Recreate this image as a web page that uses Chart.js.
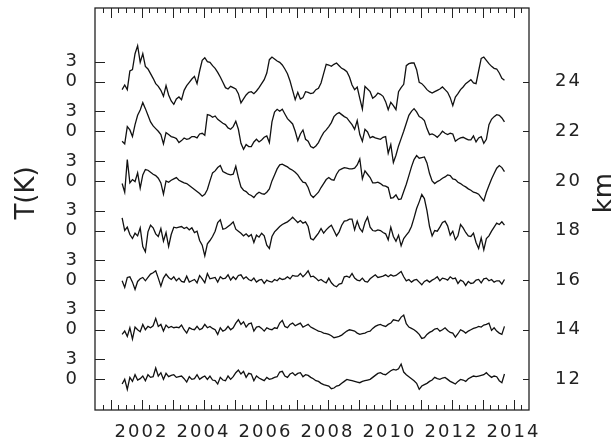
<!DOCTYPE html>
<html>
<head>
<meta charset="utf-8">
<script src="https://cdn.jsdelivr.net/npm/chart.js@4.4.0/dist/chart.umd.min.js"></script>
<style>
  html, body { margin: 0; padding: 0; background: #fff; }
  #wrap { width: 611px; height: 441px; }
</style>
</head>
<body>
<div id="wrap"><canvas id="profileChart" width="611" height="441"></canvas></div>
<script>
// one value per month, first sample mid-May 2001
const startYear = 2001.375;
const step = 1 / 12;

const heightsKm = [12, 14, 16, 18, 20, 22, 24];
const offsetK = 7.45; // spacing between the stacked curves (K)
const yearLabels = [2002, 2004, 2006, 2008, 2010, 2012, 2014];

// temperature anomalies (K) at each height
const t12 = [
  -0.7, 0.0, -1.5, 0.3, -0.3, 0.7, -0.1, 0.1, 0.5, -0.2, 0.7, 0.3,
  0.4, 1.7, 0.5, 1.0, 0.0, 0.9, 0.4, 0.6, 0.7, 0.3, 0.4, 0.5,
  0.1, -0.4, 0.4, 0.0, 0.1, 0.7, 0.0, 0.3, 0.5, 0.0, 0.5, -0.1,
  -0.2, -0.7, 0.3, -0.1, -0.2, 0.5, 0.0, 0.4, 1.0, 1.4, 0.8, 1.2,
  0.3, 0.9, 0.8, -0.2, 0.5, 0.2, 0.0, -0.2, 0.3, 0.0, 0.1, 0.3,
  0.4, 1.1, 1.2, 0.5, 0.3, 0.8, 1.0, 0.6, 0.9, 1.0, 0.4, 0.7,
  0.6, 0.3, 0.1, -0.2, -0.3, -0.6, -0.8, -0.9, -1.0, -1.4, -1.3, -1.0,
  -0.9, -0.6, -0.3, 0.0, -0.1, -0.2, -0.3, -0.4, -0.5, -0.3, -0.2, -0.1,
  0.0, 0.3, 0.6, 0.9, 1.0, 0.8, 0.7, 1.0, 1.3, 1.5, 1.4, 1.6,
  2.3, 1.1, 0.7, 0.4, 0.1, -0.2, -0.6, -1.5, -1.0, -0.8, -0.6, -0.3,
  -0.1, 0.3, 0.1, 0.0, 0.2, 0.3, 0.0, -0.3, -0.5, -0.7, -0.3, 0.0,
  -0.1, -0.3, 0.1, 0.3, 0.5, 0.4, 0.5, 0.6, 0.7, 1.0, 0.6, 0.3,
  0.5, 0.4, -0.2, -0.5, 0.8
];
const t14 = [
  -0.7, -0.2, -1.0, 0.3, -1.4, 0.4, 0.0, -0.3, 0.8, 0.0, 0.5, 0.3,
  0.6, 1.7, 0.5, 0.8, -0.2, 0.7, 0.3, 0.5, 0.3, 0.4, 0.3, 0.7,
  0.0, -0.5, 0.3, 0.1, 0.0, 0.5, 0.0, 0.2, 0.8, 0.3, 0.5, 0.2,
  0.0, -0.7, 0.3, -0.2, 0.0, 0.5, 0.0, 0.3, 1.0, 1.5, 0.8, 1.2,
  0.4, 0.9, 1.0, -0.2, 0.4, 0.5, 0.2, -0.2, 0.3, 0.1, 0.0, 0.3,
  0.2, 1.0, 1.4, 0.5, 0.3, 0.8, 1.0, 0.6, 0.8, 1.0, 0.4, 0.6,
  0.8, 0.4, 0.2, 0.0, -0.2, -0.3, -0.5, -0.6, -0.7, -0.9, -1.2, -1.1,
  -1.0, -0.8, -0.5, -0.2, 0.0, -0.1, -0.2, -0.5, -0.7, -0.6, -0.5, -0.3,
  -0.2, 0.2, 0.5, 0.7, 0.8, 0.6, 0.5, 0.8, 1.0, 1.5, 1.4, 1.3,
  1.9, 2.2, 0.9, 0.4, 0.2, 0.0, -0.3, -0.7, -1.3, -1.2, -0.7, -0.4,
  -0.2, 0.1, 0.2, -0.2, 0.0, 0.3, -0.1, -0.4, -0.5, -1.1, -0.6, 0.0,
  -0.2, -0.5, -0.2, 0.0, 0.2, 0.3, 0.5, 0.4, 0.7, 0.8, 1.0, -0.1,
  0.3, -0.2, -0.5, -0.7, 0.5
];
const t16 = [
  -0.1, -1.1, 0.4, 0.5, -0.3, -1.4, -0.2, 0.2, 0.4, -0.1, 0.4, 0.9,
  1.1, 1.4, 0.3, -0.9, 0.3, 0.9, 0.4, 0.1, 0.5, -0.1, 0.3, -0.2,
  -0.3, 0.6, -0.3, -0.1, 0.1, -0.4, 0.7, 0.2, -0.4, 1.0, 0.2, 0.3,
  0.4, -0.3, 0.5, 0.2, 0.3, 0.8, 0.0, 0.5, 0.1, 0.7, 0.8, 0.2,
  0.5, 0.1, -0.1, 0.3, -0.3, 0.0, 0.1, -0.5, 0.0, -0.2, -0.3, 0.1,
  -0.1, 0.3, 0.1, 0.2, 0.5, 0.2, 0.7, 0.6, 0.6, 1.0, 0.5, 0.9,
  1.4, 0.5, 0.6, 0.3, -0.1, 0.1, -0.2, -0.4, 0.3, -0.4, -0.8, -1.0,
  -0.6, -0.5, 0.5, 0.6, 0.4, 1.0, 0.3, 0.0, -0.1, 0.3, -0.2, -0.3,
  0.2, 0.5, 0.8, 0.4, 0.5, 0.6, 0.8, 0.5, 0.8, 0.6, 0.7, 1.0,
  1.3, 0.5, -0.1, 0.1, -0.3, 0.0, 0.1, -0.3, -0.7, -0.2, 0.0, -0.3,
  0.0, 0.2, 0.5, -0.1, 0.3, 0.2, 0.0, 0.5, 0.2, 0.3, -0.5, 0.0,
  -0.2, -0.8, -0.2, -0.5, -0.4, 0.0, 0.1, -0.4, 0.2, 0.3, -0.1, 0.1,
  -0.3, -0.1, -0.1, -0.6, 0.1
];
const t18 = [
  1.9, 0.0, 0.5, -0.6, -1.2, -0.4, -0.8, 0.4, -2.4, -3.2, -0.2, 0.8,
  0.4, -0.5, -0.9, 0.3, -1.6, -0.3, -2.4, -0.6, 0.5, 0.4, 0.5, 0.6,
  0.3, 0.5, 0.1, 0.4, -0.3, -0.1, -1.5, -2.2, -3.8, -2.0, -1.5, -0.9,
  -0.1, 1.2, 1.6, 0.2, 0.3, 0.6, 0.9, 1.3, 0.2, -0.1, -0.4, -0.8,
  -0.5, -0.9, -0.6, -1.8, -0.7, -1.0, -0.4, -0.8, -2.2, -2.7, -0.9, -0.2,
  0.2, 0.6, 0.9, 1.1, 1.3, 1.6, 2.0, 1.6, 1.2, 1.5, 1.1, 1.3,
  0.6, -1.2, -1.4, -0.9, -0.4, 0.3, -0.4, 0.1, 0.5, 0.8, 0.0, -0.8,
  -0.2, 0.8, 1.4, 1.5, 1.7, 1.7, 0.1, 1.4, 0.3, -0.2, 1.2, 2.0,
  0.5, 0.0, -0.1, 0.1, 0.0, -0.3, -0.5, -1.4, 0.5, -0.9, -1.6, -0.7,
  -2.3, -1.2, -0.7, -0.2, 0.6, 1.9, 3.3, 4.3, 5.4, 4.8, 3.0, 0.6,
  -0.8, 0.0, -0.1, 0.5, 1.2, 1.4, 0.7, -0.7, -0.1, -1.4, -0.8, 0.9,
  0.4, -0.3, -0.8, -0.9, -0.4, -1.8, -2.7, -1.1, -2.9, -1.2, -0.8, -0.1,
  0.5, 1.1, 0.9, 1.3, 0.8
];
const t20 = [
  -0.4, -1.7, 3.2, -0.3, 0.2, -0.1, 1.2, -1.1, 0.9, 1.7, 1.6, 1.3,
  1.0, 0.8, 0.4, -0.3, -2.0, 0.0, -0.2, 0.1, 0.3, 0.5, 0.1, -0.1,
  -0.3, -0.4, -0.7, -1.0, -1.3, -1.6, -1.9, -2.3, -2.0, -1.3, 0.0, 1.2,
  1.5, 2.0, 2.3, 1.4, 1.2, 1.0, 0.9, 1.0, 2.2, 0.5, -0.9, -1.4,
  -1.6, -2.0, -2.2, -2.5, -2.0, -1.7, -1.9, -2.0, -1.7, -1.2, 0.0, 0.9,
  1.8, 2.4, 2.5, 2.3, 2.1, 1.8, 1.6, 1.3, 0.9, 0.3, -0.2, -0.3,
  -1.0, -2.1, -2.5, -2.1, -1.7, -1.0, -0.4, 0.2, 0.5, 0.2, 0.1, 1.0,
  1.6, 1.8, 2.0, 1.9, 1.8, 1.8, 1.9, 2.4, 3.3, 0.3, 1.5, 1.0,
  0.5, -0.3, -0.3, -0.2, -0.4, -0.7, -0.8, -1.0, -2.6, -2.5, -2.1, -2.8,
  -2.7, -1.6, -0.5, 0.8, 2.1, 3.2, 3.8, 3.4, 3.5, 3.6, 2.7, 1.1,
  0.0, -0.4, -0.1, 0.1, 0.4, 0.6, 0.9, 0.8, 0.3, 0.2, -0.2, -0.4,
  -0.7, -0.9, -1.2, -1.4, -1.7, -1.8, -2.0, -2.5, -3.0, -1.7, -0.7, 0.3,
  1.1, 1.9, 2.3, 2.0, 1.4
];
const t22 = [
  -1.5, -1.9, 0.7, 0.2, -0.8, 1.0, 2.4, 3.2, 4.3, 3.4, 2.4, 1.4,
  0.8, 0.4, 0.0, -0.5, -1.9, -0.2, -0.5, -0.8, -0.9, -1.1, -1.7, -1.4,
  -1.0, -1.2, -1.1, -0.8, -0.8, -1.0, -0.4, -0.3, -0.6, 2.5, 2.4, 2.1,
  2.3, 1.8, 1.5, 1.2, 1.0, 0.5, 0.3, 0.7, 1.5, 0.3, -1.8, -2.7,
  -2.0, -2.3, -2.3, -1.6, -1.2, -1.6, -1.3, -0.9, -0.7, -1.7, 1.4, 2.9,
  3.3, 3.0, 3.3, 2.6, 1.9, 1.5, 1.1, 0.0, -1.4, -0.4, 0.2, -1.2,
  -1.5, -2.3, -2.5, -2.2, -1.7, -0.9, -0.2, 0.2, 0.7, 1.3, 2.2, 2.6,
  2.8, 2.5, 2.2, 2.0, 1.5, 1.0, 0.3, 1.6, -0.5, -1.5, 0.3, -0.1,
  -1.0, -0.8, -1.0, -1.1, -1.2, -0.9, -0.8, -3.3, -2.0, -4.7, -3.6, -2.2,
  -1.1, 0.0, 1.2, 2.4, 3.0, 3.4, 2.9, 2.2, 2.0, 1.6, 0.4, -0.5,
  -0.4, -0.6, -0.9, -0.5, 0.0, -0.3, -0.5, -0.3, -0.4, -1.5, -1.2, -1.0,
  -0.9, -1.1, -1.3, -1.3, -0.7, -1.6, -1.0, -0.8, -1.8, -1.2, 1.0, 1.8,
  2.2, 2.5, 2.4, 2.0, 1.4
];
const t24 = [
  -1.2, -0.5, -1.2, 1.6, 1.8, 4.2, 5.4, 2.9, 4.2, 2.3, 1.9, 1.2,
  0.5, -0.3, -0.7, -1.3, -2.2, -0.6, -2.0, -2.9, -3.4, -2.6, -2.3, -2.7,
  -1.3, -0.6, -0.1, 0.4, 0.8, -0.3, 1.6, 3.2, 3.6, 3.0, 2.9, 2.4,
  2.0, 1.4, 0.7, -0.1, -0.9, -1.1, -0.7, -0.9, -1.1, -1.8, -3.2, -2.6,
  -2.0, -1.6, -1.5, -1.8, -1.4, -0.9, -0.3, 0.3, 1.3, 3.3, 3.7, 3.4,
  3.1, 2.9, 2.5, 1.9, 1.2, 0.1, -1.3, -2.7, -1.6, -2.6, -2.4, -1.5,
  -1.6, -1.8, -1.7, -1.2, -1.0, -0.2, 1.2, 2.6, 2.5, 2.3, 2.6, 2.8,
  2.4, 2.0, 1.8, 1.5, 0.7, -0.5, -1.2, -0.8, -2.5, -4.1, -0.7, -1.1,
  -1.5, -2.5, -2.2, -1.7, -1.9, -2.2, -3.0, -4.2, -3.1, -3.6, -4.2, -1.5,
  -0.9, -0.4, 2.4, 2.7, 2.8, 2.8, 1.8, -0.1, -0.3, -0.7, -1.2, -1.5,
  -1.7, -1.5, -1.3, -1.1, -0.8, -1.2, -1.6, -2.4, -3.6, -2.3, -1.8, -1.2,
  -0.8, -0.3, 0.0, 0.3, -0.2, -0.3, 1.6, 3.5, 3.7, 3.2, 2.7, 2.3,
  2.0, 1.9, 1.3, 0.5, 0.2
];

const allSeries = [t12, t14, t16, t18, t20, t22, t24];

const labelFont = { family: 'DejaVu Sans', size: 18 };
const ink = '#222';

// each curve shifted up by offsetK per level
const datasets = allSeries.map((vals, i) => ({
  label: heightsKm[i] + ' km',
  data: vals.map((v, k) => ({ x: startYear + k * step, y: v + i * offsetK })),
  borderColor: '#111',
  borderWidth: 1.3,
  pointRadius: 0,
  tension: 0,
  fill: false
}));

// drop the automatic label padding so the plot frame sits where the reference has it
const noPad = s => {
  s.paddingTop = 0; s.paddingBottom = 0;
  s.paddingLeft = 0; s.paddingRight = 0;
};

// frame, inward ticks and the two axis titles
const frameAndTicks = {
  id: 'frameAndTicks',
  beforeDraw(chart) {
    chart.ctx.letterSpacing = '2px';
  },
  afterDraw(chart) {
    const { ctx, chartArea: a, scales } = chart;
    ctx.save();
    ctx.letterSpacing = '0px';
    ctx.strokeStyle = ink;
    ctx.lineWidth = 1.3;
    ctx.strokeRect(a.left, a.top, a.right - a.left, a.bottom - a.top);

    ctx.lineWidth = 1;
    ctx.beginPath();
    for (let q = 2000.75; q < 2014.5; q += 0.25) {
      const px = Math.round(scales.x.getPixelForValue(q)) + 0.5;
      const len = Number.isInteger(q) ? 10 : 5;
      ctx.moveTo(px, a.bottom); ctx.lineTo(px, a.bottom - len);
      ctx.moveTo(px, a.top); ctx.lineTo(px, a.top + len);
    }
    scales.y.ticks.forEach(t => {
      const py = Math.round(scales.y.getPixelForValue(t.value)) + 0.5;
      ctx.moveTo(a.left, py); ctx.lineTo(a.left + 10, py);
    });
    scales.y2.ticks.forEach(t => {
      const py = Math.round(scales.y2.getPixelForValue(t.value)) + 0.5;
      ctx.moveTo(a.right, py); ctx.lineTo(a.right - 6, py);
    });
    ctx.stroke();

    ctx.fillStyle = ink;
    ctx.font = '26px "DejaVu Sans"';
    ctx.textAlign = 'center';
    ctx.textBaseline = 'alphabetic';
    ctx.save();
    ctx.translate(34, 193);
    ctx.rotate(-Math.PI / 2);
    ctx.fillText('T(K)', 0, 0);
    ctx.restore();
    ctx.save();
    ctx.translate(612, 193);
    ctx.rotate(-Math.PI / 2);
    ctx.fillText('km', 0, 0);
    ctx.restore();
    ctx.restore();
  }
};

new Chart(document.getElementById('profileChart'), {
  type: 'line',
  data: { datasets },
  options: {
    responsive: false,
    animation: false,
    layout: { padding: { top: 8, left: 0, right: 0, bottom: 0 } },
    plugins: { legend: { display: false }, tooltip: { enabled: false } },
    scales: {
      x: {
        type: 'linear',
        min: 2000.5,
        max: 2014.5,
        grid: { display: false },
        border: { display: false },
        afterBuildTicks: s => { s.ticks = yearLabels.map(v => ({ value: v })); },
        afterFit: s => { s.height = 31; noPad(s); },
        ticks: {
          autoSkip: false,
          maxRotation: 0,
          padding: 4,
          color: ink,
          font: labelFont,
          callback: v => String(v)
        }
      },
      y: {
        position: 'left',
        min: -4.6,
        max: 55.76,
        grid: { display: false },
        border: { display: false },
        afterBuildTicks: s => {
          const t = [];
          heightsKm.forEach((h, i) => { t.push({ value: i * offsetK }, { value: i * offsetK + 3 }); });
          s.ticks = t;
        },
        afterFit: s => { s.width = 95; noPad(s); },
        ticks: {
          padding: 8,
          color: ink,
          font: labelFont,
          callback: v => String(Math.round(v - Math.round(v / offsetK) * offsetK))
        }
      },
      y2: {
        position: 'right',
        min: -4.6,
        max: 55.76,
        grid: { display: false },
        border: { display: false },
        afterBuildTicks: s => { s.ticks = heightsKm.map((h, i) => ({ value: i * offsetK })); },
        afterFit: s => { s.width = 82; noPad(s); },
        ticks: {
          padding: 18,
          color: ink,
          font: labelFont,
          callback: v => String(heightsKm[Math.round(v / offsetK)])
        }
      }
    }
  },
  plugins: [frameAndTicks]
});
</script>
</body>
</html>
